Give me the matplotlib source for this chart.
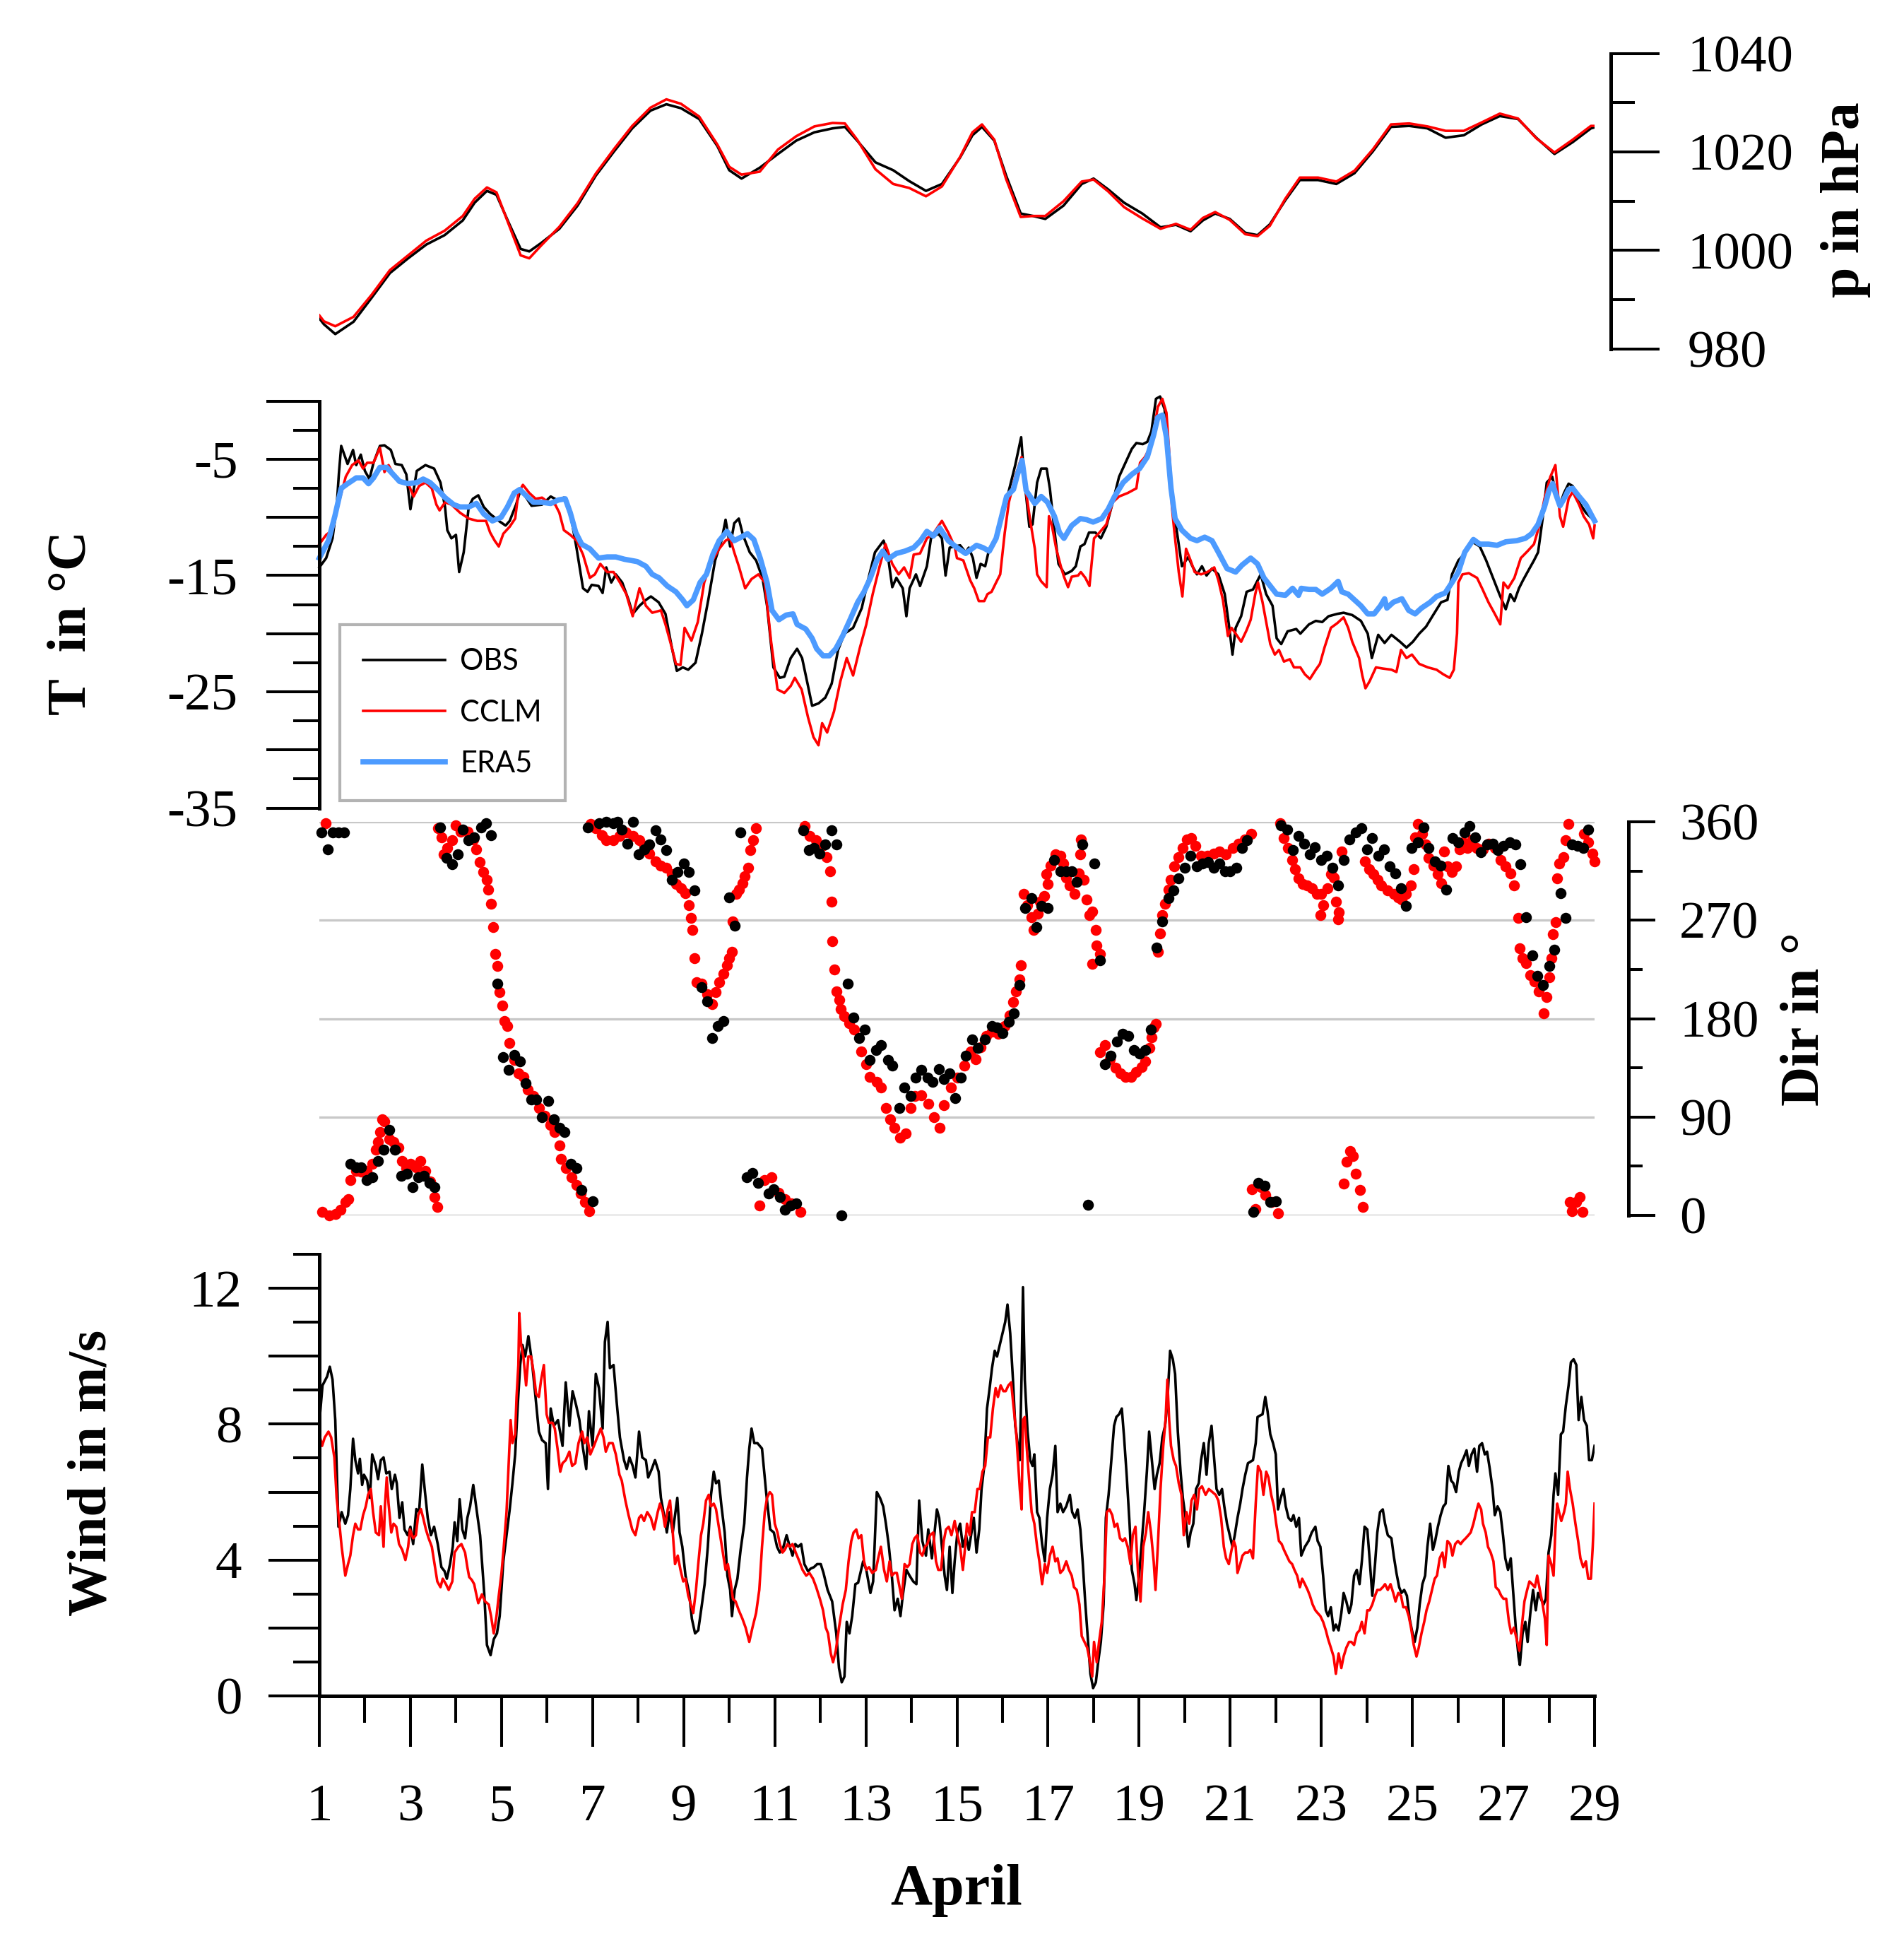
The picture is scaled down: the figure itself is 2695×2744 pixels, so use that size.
import matplotlib
matplotlib.use("Agg")
import matplotlib.pyplot as plt

plt.rcParams['font.family'] = ['Liberation Serif', 'DejaVu Serif']
plt.rcParams['axes.unicode_minus'] = False

# ---------------- data (April, day of month) ----------------
p_day = [1.0, 1.1, 1.35, 1.75, 2.15, 2.55, 2.95, 3.35, 3.75, 4.15,
         4.41, 4.68, 4.89, 5.15, 5.42, 5.61, 5.87, 6.27, 6.67, 7.07,
         7.47, 7.87, 8.27, 8.62, 8.94, 9.34, 9.74, 10.0, 10.27, 10.67,
         11.07, 11.47, 11.87, 12.27, 12.54, 12.81, 13.21, 13.6, 13.95, 14.32,
         14.67, 15.07, 15.34, 15.55, 15.82, 16.08, 16.4, 16.67, 16.94, 17.34,
         17.74, 18.0, 18.32, 18.67, 19.07, 19.47, 19.81, 20.13, 20.4, 20.67,
         20.99, 21.33, 21.6, 21.87, 22.21, 22.53, 22.93, 23.33, 23.73, 24.13,
         24.53, 24.93, 25.33, 25.73, 26.13, 26.52, 26.92, 27.32, 27.72, 28.12,
         28.52, 28.92, 29.0]
p_obs = [986.2, 985.0, 983.0, 985.5, 990.4, 995.4, 998.4, 1001.2, 1003.1, 1006.1,
         1009.7, 1012.1, 1011.3, 1005.8, 1000.3, 999.8, 1001.5, 1004.4, 1009.1, 1015.2,
         1020.1, 1024.8, 1028.4, 1029.7, 1028.9, 1026.7, 1021.2, 1016.3, 1014.6, 1016.8,
         1019.6, 1022.3, 1024.0, 1024.8, 1025.1, 1022.3, 1017.9, 1016.3, 1014.1, 1012.1,
         1013.5, 1018.9, 1023.4, 1025.1, 1022.3, 1015.2, 1007.5, 1007.0, 1006.4, 1009.1,
         1013.5, 1014.6, 1012.4, 1009.7, 1007.5, 1004.7, 1005.2, 1003.9, 1006.1, 1007.5,
         1006.4, 1003.6, 1003.1, 1005.3, 1010.2, 1014.3, 1014.3, 1013.5, 1015.7, 1020.1,
         1025.1, 1025.3, 1024.8, 1022.9, 1023.4, 1025.6, 1027.3, 1026.7, 1022.9, 1019.6,
         1022.0, 1024.8, 1025.0]
p_cclm = [986.8, 985.6, 984.6, 986.5, 991.0, 996.0, 999.0, 1002.0, 1004.0, 1007.0,
          1010.5, 1012.8, 1011.8, 1005.5, 999.0, 998.4, 1001.0, 1004.8, 1009.6, 1015.6,
          1020.6, 1025.3, 1029.0, 1030.7, 1029.8, 1027.2, 1021.5, 1017.0, 1015.4, 1016.0,
          1020.5, 1023.2, 1025.2, 1025.9, 1025.8, 1022.5, 1016.5, 1013.5, 1012.7, 1011.0,
          1013.0, 1019.0, 1024.0, 1025.6, 1022.5, 1014.5, 1006.8, 1007.0, 1007.0, 1010.0,
          1014.0, 1014.4, 1012.0, 1008.8, 1006.5, 1004.4, 1005.4, 1004.2, 1006.6, 1007.8,
          1006.2, 1003.3, 1002.9, 1005.0, 1010.5, 1014.8, 1014.8, 1014.0, 1016.2, 1020.5,
          1025.6, 1025.8, 1025.2, 1024.3, 1024.3, 1026.0, 1027.8, 1026.8, 1022.8, 1019.9,
          1022.5, 1025.3, 1025.3]

t_obs_day = [1.0, 1.15, 1.29, 1.38, 1.43, 1.48, 1.62, 1.74, 1.81, 1.91,
             2.0, 2.1, 2.19, 2.33, 2.43, 2.57, 2.67, 2.81, 2.91, 3.0,
             3.14, 3.33, 3.52, 3.66, 3.76, 3.81, 3.9, 4.0, 4.07, 4.17,
             4.28, 4.37, 4.49, 4.61, 4.75, 4.94, 5.09, 5.18, 5.32, 5.42,
             5.56, 5.66, 5.89, 6.08, 6.22, 6.37, 6.51, 6.65, 6.79, 6.89,
             6.98, 7.13, 7.22, 7.3, 7.41, 7.51, 7.65, 7.79, 7.88, 8.03,
             8.17, 8.28, 8.45, 8.6, 8.74, 8.85, 8.98, 9.1, 9.26, 9.4,
             9.54, 9.69, 9.83, 9.92, 10.02, 10.11, 10.21, 10.3, 10.45, 10.59,
             10.73, 10.83, 10.97, 11.11, 11.21, 11.35, 11.49, 11.6, 11.73, 11.82,
             11.96, 12.11, 12.25, 12.39, 12.53, 12.72, 12.91, 13.06, 13.2, 13.39,
             13.48, 13.58, 13.67, 13.81, 13.89, 13.96, 14.1, 14.19, 14.34, 14.43,
             14.59, 14.67, 14.75, 14.84, 14.95, 15.07, 15.19, 15.26, 15.35, 15.43,
             15.52, 15.62, 15.71, 15.86, 16.0, 16.14, 16.28, 16.41, 16.47, 16.59,
             16.66, 16.76, 16.85, 16.97, 17.04, 17.14, 17.23, 17.37, 17.52, 17.61,
             17.71, 17.8, 17.9, 18.04, 18.16, 18.28, 18.42, 18.56, 18.7, 18.84,
             18.94, 19.08, 19.18, 19.27, 19.37, 19.46, 19.56, 19.65, 19.75, 19.84,
             19.94, 20.08, 20.17, 20.27, 20.38, 20.48, 20.6, 20.74, 20.88, 20.98,
             21.05, 21.12, 21.24, 21.36, 21.5, 21.67, 21.79, 21.93, 22.02, 22.12,
             22.26, 22.45, 22.54, 22.73, 22.88, 23.02, 23.16, 23.35, 23.49, 23.68,
             23.87, 24.02, 24.11, 24.25, 24.39, 24.54, 24.73, 24.87, 25.01, 25.15,
             25.3, 25.44, 25.63, 25.77, 25.87, 26.01, 26.15, 26.32, 26.48, 26.62,
             26.77, 26.91, 27.05, 27.15, 27.24, 27.34, 27.43, 27.57, 27.67, 27.76,
             27.86, 27.95, 28.07, 28.14, 28.24, 28.33, 28.43, 28.52, 28.66, 28.81,
             29.0]
t_obs = [-14.3, -13.5, -11.8, -9.1, -6.2, -3.85, -5.4, -4.2, -5.5, -4.6,
         -6.0, -6.7, -5.3, -3.85, -3.8, -4.2, -5.4, -5.5, -6.3, -9.3,
         -6.0, -5.5, -5.8, -7.0, -9.1, -11.1, -11.8, -11.5, -14.7, -13.0,
         -9.1, -8.4, -8.1, -9.1, -9.7, -10.3, -10.7, -10.3, -8.9, -7.6,
         -8.4, -9.0, -8.9, -8.2, -8.5, -8.3, -9.6, -12.7, -16.1, -16.4,
         -15.8, -15.9, -16.5, -14.3, -15.6, -14.9, -15.6, -17.1, -18.3, -17.6,
         -17.1, -16.8, -17.3, -18.3, -21.2, -23.2, -22.9, -23.1, -22.5, -20.0,
         -17.1, -13.7, -12.0, -10.2, -12.5, -10.5, -10.1, -11.5, -13.0, -13.7,
         -15.2, -17.6, -22.9, -23.8, -23.7, -22.1, -21.3, -22.1, -24.5, -26.2,
         -26.0, -25.5, -24.3, -21.4, -20.0, -19.5, -17.8, -15.2, -13.0, -12.0,
         -13.2, -16.0, -15.2, -16.1, -18.5, -16.1, -14.9, -15.9, -14.2, -11.8,
         -11.4, -11.8, -15.0, -12.6, -12.5, -12.4, -13.0, -12.6, -13.5, -15.2,
         -14.0, -14.2, -12.7, -11.8, -9.9, -7.7, -5.5, -3.1, -6.3, -10.8,
         -10.6, -7.0, -5.8, -5.8, -7.5, -11.1, -14.0, -14.9, -14.6, -14.2,
         -12.5, -12.3, -11.3, -11.3, -11.8, -10.8, -8.7, -6.5, -5.3, -4.1,
         -3.6, -3.7, -3.5, -2.6, 0.2, 0.4, -0.7, -5.5, -9.1, -11.5,
         -14.2, -13.4, -14.2, -14.9, -14.2, -15.0, -14.4, -14.9, -16.6, -19.5,
         -21.8, -19.5, -18.5, -16.4, -16.2, -14.9, -16.6, -17.6, -20.4, -20.9,
         -19.8, -19.6, -20.0, -19.2, -18.9, -19.0, -18.5, -18.3, -18.2, -18.4,
         -18.9, -20.0, -22.1, -20.1, -20.8, -20.1, -20.7, -21.2, -20.7, -20.0,
         -19.4, -18.5, -17.3, -17.1, -14.9, -13.7, -13.1, -12.1, -12.5, -13.7,
         -15.2, -16.6, -17.9, -16.6, -17.2, -16.1, -15.4, -14.4, -13.7, -13.0,
         -10.1, -7.0, -6.5, -7.7, -8.9, -7.9, -7.1, -7.3, -8.7, -9.6,
         -10.3]

t_cclm_day = [1.0, 1.15, 1.29, 1.43, 1.58, 1.72, 1.86, 1.96, 2.05, 2.19,
              2.33, 2.43, 2.52, 2.67, 2.81, 2.95, 3.07, 3.19, 3.33, 3.47,
              3.57, 3.64, 3.76, 3.9, 4.09, 4.28, 4.47, 4.66, 4.75, 4.85,
              4.94, 5.04, 5.18, 5.3, 5.37, 5.47, 5.61, 5.75, 5.89, 6.03,
              6.18, 6.27, 6.37, 6.51, 6.65, 6.79, 6.94, 7.05, 7.17, 7.32,
              7.46, 7.6, 7.74, 7.88, 8.03, 8.17, 8.31, 8.5, 8.6, 8.74,
              8.83, 8.93, 9.02, 9.17, 9.31, 9.45, 9.59, 9.78, 9.92, 10.02,
              10.11, 10.21, 10.35, 10.49, 10.64, 10.78, 10.92, 11.06, 11.21, 11.35,
              11.44, 11.59, 11.73, 11.85, 11.96, 12.04, 12.15, 12.3, 12.44, 12.58,
              12.72, 12.87, 13.01, 13.15, 13.29, 13.43, 13.58, 13.72, 13.84, 13.96,
              14.05, 14.19, 14.34, 14.48, 14.67, 14.81, 14.95, 15.0, 15.14, 15.29,
              15.38, 15.48, 15.6, 15.67, 15.76, 15.86, 15.95, 16.05, 16.14, 16.28,
              16.42, 16.52, 16.61, 16.71, 16.76, 16.85, 16.97, 17.02, 17.09, 17.18,
              17.28, 17.35, 17.44, 17.52, 17.66, 17.72, 17.82, 17.91, 18.01, 18.13,
              18.28, 18.42, 18.56, 18.75, 18.94, 19.02, 19.13, 19.22, 19.34, 19.41,
              19.51, 19.6, 19.68, 19.72, 19.77, 19.87, 19.95, 20.03, 20.13, 20.22,
              20.36, 20.5, 20.65, 20.74, 20.84, 20.95, 21.03, 21.12, 21.24, 21.36,
              21.45, 21.55, 21.61, 21.71, 21.79, 21.88, 21.98, 22.07, 22.18, 22.31,
              22.4, 22.54, 22.64, 22.75, 22.88, 22.97, 23.07, 23.21, 23.35, 23.49,
              23.59, 23.68, 23.83, 23.9, 23.97, 24.06, 24.2, 24.35, 24.54, 24.65,
              24.75, 24.87, 24.99, 25.15, 25.34, 25.53, 25.68, 25.82, 25.91, 25.98,
              26.01, 26.1, 26.24, 26.42, 26.53, 26.67, 26.81, 26.93, 27.0, 27.1,
              27.24, 27.38, 27.53, 27.67, 27.78, 27.9, 28.03, 28.14, 28.24, 28.31,
              28.43, 28.52, 28.66, 28.76, 28.88, 28.97, 29.0]
t_cclm = [-12.3, -11.5, -11.1, -8.7, -6.5, -5.5, -5.1, -5.8, -5.3, -5.3,
          -4.0, -6.1, -5.5, -6.6, -6.9, -7.1, -8.2, -7.3, -7.0, -7.5,
          -8.9, -9.4, -8.7, -8.9, -9.6, -10.1, -10.3, -10.3, -11.3, -12.0,
          -12.5, -11.4, -10.8, -10.1, -7.9, -7.2, -7.9, -8.4, -8.3, -8.7,
          -8.9, -9.6, -11.1, -11.5, -12.0, -13.2, -15.2, -14.9, -14.0, -14.7,
          -14.7, -15.6, -16.6, -18.5, -16.1, -17.6, -18.2, -18.0, -19.2, -21.2,
          -22.6, -22.7, -19.5, -20.6, -19.0, -15.6, -14.0, -12.7, -12.0, -11.8,
          -13.0, -14.2, -16.1, -15.3, -14.9, -15.6, -20.7, -24.8, -25.1, -24.5,
          -23.8, -24.8, -27.2, -28.9, -29.6, -27.7, -28.5, -26.7, -24.1, -22.1,
          -23.6, -21.2, -19.2, -16.6, -14.4, -12.3, -14.0, -14.9, -14.3, -15.2,
          -13.2, -13.1, -11.8, -11.4, -10.3, -11.3, -12.5, -13.5, -13.7, -15.4,
          -16.1, -17.2, -17.2, -16.6, -16.4, -15.6, -14.9, -11.3, -8.7, -6.5,
          -4.8, -7.9, -10.3, -12.7, -14.9, -15.5, -16.0, -9.9, -10.8, -12.7,
          -14.2, -15.1, -16.0, -15.1, -15.0, -14.7, -15.2, -15.9, -11.8, -11.3,
          -10.6, -8.7, -8.2, -7.9, -7.5, -5.3, -4.8, -4.1, -2.2, -0.5,
          0.2, -1.0, -5.5, -9.1, -11.1, -14.7, -16.8, -12.7, -13.7, -14.7,
          -14.9, -14.7, -14.3, -15.4, -17.1, -20.2, -19.5, -20.0, -20.7, -19.7,
          -18.8, -16.6, -15.6, -17.3, -19.0, -20.9, -21.8, -21.4, -22.4, -22.2,
          -22.9, -22.9, -23.5, -23.9, -23.1, -22.6, -21.2, -19.5, -19.1, -18.6,
          -19.5, -20.7, -22.1, -23.6, -24.7, -24.1, -22.9, -23.0, -23.1, -23.3,
          -21.4, -22.1, -21.8, -22.6, -22.9, -23.1, -23.5, -23.8, -23.1, -20.0,
          -15.6, -14.9, -14.8, -15.2, -16.1, -17.3, -18.3, -19.2, -15.6, -16.1,
          -15.2, -13.5, -12.9, -12.3, -10.8, -8.4, -6.5, -5.5, -9.9, -10.8,
          -8.4, -7.8, -8.9, -9.9, -10.6, -11.8, -10.7]

t_era5_day = [1.0, 1.2, 1.34, 1.48, 1.62, 1.81, 1.96, 2.08, 2.19, 2.33,
              2.48, 2.62, 2.76, 2.95, 3.14, 3.28, 3.43, 3.62, 3.76, 3.95,
              4.09, 4.28, 4.45, 4.61, 4.8, 4.99, 5.13, 5.28, 5.4, 5.56,
              5.7, 5.89, 6.08, 6.25, 6.4, 6.51, 6.63, 6.76, 6.94, 7.13,
              7.32, 7.51, 7.7, 7.98, 8.17, 8.31, 8.46, 8.64, 8.83, 8.98,
              9.07, 9.21, 9.36, 9.5, 9.64, 9.78, 9.95, 10.11, 10.26, 10.4,
              10.54, 10.68, 10.83, 10.94, 11.09, 11.25, 11.4, 11.49, 11.68, 11.82,
              11.92, 12.06, 12.2, 12.34, 12.49, 12.63, 12.82, 12.96, 13.1, 13.24,
              13.37, 13.48, 13.67, 13.86, 14.05, 14.2, 14.34, 14.48, 14.62, 14.81,
              15.0, 15.19, 15.43, 15.57, 15.71, 15.86, 16.0, 16.09, 16.24, 16.33,
              16.43, 16.52, 16.71, 16.85, 16.99, 17.14, 17.25, 17.35, 17.52, 17.71,
              17.85, 17.99, 18.18, 18.32, 18.46, 18.65, 18.84, 19.01, 19.18, 19.32,
              19.41, 19.51, 19.6, 19.7, 19.79, 19.94, 20.13, 20.27, 20.44, 20.6,
              20.74, 20.93, 21.12, 21.26, 21.45, 21.6, 21.74, 21.88, 22.02, 22.21,
              22.37, 22.5, 22.56, 22.73, 22.88, 23.02, 23.21, 23.37, 23.45, 23.59,
              23.73, 23.87, 24.02, 24.16, 24.3, 24.39, 24.44, 24.58, 24.77, 24.92,
              25.06, 25.2, 25.39, 25.53, 25.72, 25.87, 26.01, 26.15, 26.34, 26.48,
              26.67, 26.86, 27.05, 27.29, 27.48, 27.62, 27.76, 27.9, 28.0, 28.08,
              28.14, 28.24, 28.33, 28.43, 28.52, 28.66, 28.81, 29.0]
t_era5 = [-13.5, -12.0, -9.9, -7.5, -7.1, -6.6, -6.6, -7.1, -6.6, -5.7,
          -5.7, -6.3, -6.9, -7.1, -7.0, -6.7, -7.0, -7.7, -8.3, -8.9,
          -9.1, -9.1, -8.8, -9.7, -10.3, -10.0, -9.1, -7.9, -7.6, -8.2,
          -8.7, -8.7, -8.8, -8.5, -8.4, -9.6, -11.3, -12.3, -12.7, -13.5,
          -13.4, -13.4, -13.6, -13.8, -14.2, -14.9, -15.2, -15.9, -16.4, -17.1,
          -17.6, -17.1, -15.6, -14.9, -13.2, -12.0, -11.2, -12.0, -11.7, -11.4,
          -11.9, -13.5, -15.6, -18.0, -18.8, -18.4, -18.3, -19.2, -19.6, -20.4,
          -21.3, -21.9, -21.9, -21.3, -20.2, -19.0, -17.3, -16.4, -15.2, -13.7,
          -12.9, -13.6, -13.1, -12.9, -12.6, -12.0, -11.2, -11.6, -10.9, -12.0,
          -12.6, -13.1, -12.4, -12.6, -12.9, -11.8, -9.6, -8.2, -7.6, -6.3,
          -5.1, -7.7, -8.8, -8.2, -8.7, -9.9, -11.3, -11.8, -10.7, -10.1,
          -10.2, -10.4, -10.1, -9.3, -8.2, -7.0, -6.3, -5.8, -4.8, -2.9,
          -1.4, -1.2, -3.1, -7.5, -10.1, -11.1, -11.8, -12.0, -11.7, -12.0,
          -13.0, -14.4, -14.7, -14.1, -13.5, -14.0, -15.2, -15.9, -16.6, -16.7,
          -16.1, -16.7, -16.1, -16.2, -16.2, -16.6, -16.1, -15.5, -16.4, -16.6,
          -17.1, -17.6, -18.3, -18.3, -17.6, -17.0, -17.8, -17.3, -17.0, -18.0,
          -18.3, -17.8, -17.3, -16.8, -16.5, -15.6, -14.7, -13.0, -11.9, -12.3,
          -12.3, -12.4, -12.1, -12.0, -11.8, -11.4, -10.6, -9.1, -7.7, -7.1,
          -7.9, -9.0, -8.4, -7.6, -7.5, -8.2, -8.9, -10.3]

dir_obs_day = [1.04, 1.18, 1.30, 1.42, 1.55, 1.68, 1.80, 1.92, 2.04, 2.17,
               2.29, 2.41, 2.53, 2.66, 2.80, 2.93, 3.04, 3.17, 3.29, 3.42,
               3.53, 3.66, 3.79, 3.91, 4.04, 4.15, 4.28, 4.40, 4.55, 4.66,
               4.77, 4.91, 5.04, 5.16, 5.28, 5.40, 5.53, 5.66, 5.77, 5.89,
               6.02, 6.15, 6.27, 6.38, 6.52, 6.64, 6.76, 7.00, 6.90, 7.15,
               7.30, 7.45, 7.55, 7.64, 7.76, 7.89, 8.01, 8.13, 8.25, 8.38,
               8.50, 8.62, 8.74, 8.87, 9.00, 9.11, 9.24, 9.39, 9.51, 9.62,
               9.75, 9.87, 10.00, 10.12, 10.24, 10.39, 10.51, 10.64, 10.86, 10.98,
               11.11, 11.23, 11.35, 11.47, 11.62, 11.75, 11.86, 11.98, 12.11, 12.24,
               12.36, 12.47, 12.60, 12.73, 12.85, 12.97, 13.09, 13.22, 13.34, 13.49,
               13.58, 13.73, 13.85, 13.98, 14.10, 14.22, 14.35, 14.47, 14.60, 14.71,
               14.83, 14.96, 15.09, 15.20, 15.33, 15.45, 15.61, 15.77, 15.88, 16.00,
               16.14, 16.25, 16.38, 16.50, 16.64, 16.75, 16.86, 17.00, 17.14, 17.27,
               17.39, 17.52, 17.63, 17.76, 17.88, 18.01, 18.14, 18.25, 18.38, 18.51,
               18.64, 18.76, 18.88, 19.01, 19.13, 19.26, 19.38, 19.50, 19.64, 19.76,
               19.87, 20.00, 20.12, 20.27, 20.39, 20.52, 20.64, 20.77, 20.89, 21.00,
               21.14, 21.26, 21.37, 21.50, 21.62, 21.76, 21.88, 22.00, 22.11, 22.25,
               22.37, 22.50, 22.62, 22.75, 22.86, 23.00, 23.12, 23.25, 23.37, 23.49,
               23.62, 23.76, 23.88, 24.00, 24.12, 24.26, 24.37, 24.50, 24.62, 24.75,
               24.86, 24.99, 25.12, 25.25, 25.36, 25.50, 25.62, 25.75, 25.88, 26.00,
               26.14, 26.25, 26.38, 26.50, 26.64, 26.76, 26.88, 27.00, 27.14, 27.26,
               27.37, 27.50, 27.64, 27.75, 27.86, 28.00, 28.12, 28.25, 28.37, 28.50,
               28.62, 28.75, 28.86]
dir_obs = [350, 335, 350, 350, 350, 47, 44, 44, 32, 35,
           50, 60, 78, 60, 36, 38, 26, 35, 36, 30,
           26, 355, 327, 321, 330, 353, 343, 346, 355, 359,
           348, 212, 145, 133, 147, 141, 121, 106, 106, 90,
           105, 88, 80, 76, 47, 43, 23, 13, 355, 359,
           360, 359, 360, 353, 340, 360, 330, 335, 339, 352,
           344, 334, 307, 314, 322, 314, 297, 209, 196, 162,
           173, 178, 291, 265, 350, 35, 39, 30, 20, 24,
           17, 5, 9, 11, 352, 334, 336, 331, 339, 352,
           339, 0, 212, 181, 162, 170, 142, 151, 156, 142,
           137, 98, 117, 109, 126, 133, 126, 122, 134, 125,
           130, 107, 126, 146, 161, 153, 161, 173, 172, 167,
           177, 185, 211, 281, 290, 264, 283, 281, 325, 315,
           315, 315, 305, 339, 10, 322, 233, 138, 146, 159,
           166, 164, 151, 148, 151, 170, 245, 269, 290, 297,
           308, 318, 329, 319, 322, 323, 318, 322, 315, 315,
           318, 336, 343, 3, 30, 27, 12, 13, 357, 353,
           334, 347, 340, 330, 337, 325, 329, 318, 302, 325,
           344, 350, 354, 335, 345, 329, 335, 319, 313, 299,
           283, 336, 341, 355, 336, 324, 320, 298, 345, 341,
           350, 356, 346, 332, 339, 340, 334, 338, 341, 339,
           321, 273, 238, 219, 211, 228, 243, 295, 272, 339,
           338, 336, 353]

dir_cclm_day = [1.06, 1.14, 1.21, 1.35, 1.47, 1.57, 1.63, 1.68, 1.80, 1.92,
                2.04, 2.16, 2.24, 2.29, 2.34, 2.38, 2.43, 2.53, 2.63, 2.73,
                2.81, 2.91, 3.00, 3.12, 3.22, 3.32, 3.44, 3.53, 3.59, 3.61,
                3.69, 3.73, 3.81, 3.91, 3.99, 4.10, 4.25, 4.38, 4.45, 4.52,
                4.60, 4.68, 4.71, 4.77, 4.82, 4.86, 4.91, 4.96, 5.01, 5.07,
                5.12, 5.18, 5.28, 5.38, 5.48, 5.58, 5.70, 5.82, 5.95, 6.07,
                6.17, 6.27, 6.31, 6.41, 6.54, 6.64, 6.74, 6.83, 6.93, 6.95,
                7.07, 7.20, 7.30, 7.45, 7.59, 7.74, 7.89, 8.03, 8.13, 8.25,
                8.38, 8.50, 8.62, 8.74, 8.84, 8.94, 9.04, 9.11, 9.16, 9.19,
                9.23, 9.29, 9.39, 9.51, 9.62, 9.70, 9.78, 9.88, 9.95, 10.00,
                10.06, 10.07, 10.15, 10.21, 10.29, 10.34, 10.41, 10.47, 10.53, 10.59,
                10.67, 10.78, 10.93, 11.08, 11.23, 11.37, 11.57, 11.65, 11.77, 11.91,
                12.04, 12.14, 12.21, 12.24, 12.26, 12.31, 12.36, 12.41, 12.45, 12.53,
                12.63, 12.75, 12.90, 13.00, 13.09, 13.24, 13.34, 13.44, 13.53, 13.63,
                13.75, 13.88, 13.98, 14.07, 14.22, 14.37, 14.50, 14.62, 14.72, 14.87,
                15.01, 15.16, 15.30, 15.41, 15.52, 15.64, 15.77, 15.91, 16.05, 16.16,
                16.23, 16.29, 16.37, 16.41, 16.46, 16.55, 16.64, 16.68, 16.77, 16.82,
                16.91, 16.96, 17.00, 17.06, 17.16, 17.27, 17.34, 17.39, 17.48, 17.59,
                17.68, 17.70, 17.73, 17.79, 17.85, 17.91, 17.97, 17.97, 18.05, 18.07,
                18.14, 18.14, 18.25, 18.36, 18.48, 18.59, 18.70, 18.82, 18.94, 19.05,
                19.14, 19.23, 19.28, 19.32, 19.37, 19.41, 19.46, 19.50, 19.57, 19.64,
                19.70, 19.77, 19.86, 19.96, 20.05, 20.14, 20.23, 20.36, 20.50, 20.64,
                20.77, 20.91, 21.05, 21.18, 21.32, 21.46, 21.48, 21.56, 21.68, 21.77,
                21.91, 22.05, 22.09, 22.18, 22.27, 22.36, 22.43, 22.50, 22.59, 22.68,
                22.79, 22.91, 23.00, 23.05, 22.98, 23.14, 23.21, 23.27, 23.32, 23.39,
                23.37, 23.45, 23.50, 23.55, 23.64, 23.70, 23.76, 23.85, 23.91, 23.96,
                24.05, 24.14, 24.23, 24.32, 24.46, 24.59, 24.68, 24.77, 24.86, 24.96,
                25.03, 25.06, 25.12, 25.21, 25.30, 25.36, 25.46, 25.55, 25.64, 25.70,
                25.77, 25.86, 25.96, 26.03, 26.12, 26.21, 26.32, 26.41, 26.55, 26.68,
                26.82, 26.94, 27.05, 27.16, 27.23, 27.32, 27.36, 27.41, 27.50, 27.59,
                27.68, 27.77, 27.88, 27.94, 28.00, 28.05, 28.09, 28.14, 28.18, 28.23,
                28.32, 28.36, 28.43, 28.45, 28.50, 28.59, 28.68, 28.74, 28.77, 28.86,
                28.95, 29.00]
dir_cclm = [3, 359, 0, 1, 5, 12, 15, 32, 41, 40,
            41, 47, 60, 67, 76, 88, 86, 70, 67, 62,
            50, 43, 47, 44, 50, 41, 31, 17, 8, 354,
            346, 330, 336, 343, 357, 351, 351, 344, 335, 323,
            314, 307, 298, 285, 264, 239, 228, 204, 192, 178,
            173, 158, 142, 130, 127, 115, 109, 98, 91, 83,
            76, 64, 52, 43, 35, 28, 20, 12, 4, 358,
            354, 348, 343, 343, 347, 350, 347, 343, 338, 331,
            324, 320, 318, 312, 303, 299, 295, 284, 272, 261,
            235, 213, 212, 202, 193, 204, 213, 221, 229, 235,
            241, 269, 294, 298, 304, 310, 318, 334, 343, 354,
            9, 32, 35, 21, 15, 11, 3, 356, 347, 343,
            338, 328, 315, 287, 251, 225, 205, 197, 189, 182,
            176, 170, 150, 138, 127, 122, 117, 98, 88, 80,
            71, 75, 98, 109, 110, 102, 90, 80, 101, 117,
            126, 137, 150, 143, 154, 164, 168, 166, 173, 183,
            195, 205, 216, 229, 294, 284, 273, 261, 276, 287,
            292, 312, 303, 320, 330, 329, 322, 309, 302, 294,
            313, 330, 344, 307, 289, 275, 278, 230, 261, 247,
            239, 149, 156, 143, 135, 130, 127, 127, 131, 136,
            141, 153, 163, 172, 175, 241, 258, 275, 285, 298,
            307, 319, 328, 336, 344, 345, 338, 329, 329, 331,
            333, 330, 336, 340, 344, 349, 24, 6, 26, 19,
            12, 2, 359, 345, 336, 325, 317, 308, 303, 302,
            299, 294, 294, 284, 275, 299, 312, 309, 287, 277,
            271, 333, 29, 49, 59, 54, 38, 23, 8, 324,
            317, 312, 307, 302, 297, 294, 291, 289, 294, 302,
            317, 346, 358, 349, 339, 327, 320, 312, 304, 333,
            319, 314, 319, 335, 341, 336, 344, 336, 335, 340,
            336, 325, 319, 313, 302, 272, 244, 235, 231, 220,
            214, 205, 185, 200, 218, 235, 257, 268, 308, 322,
            328, 343, 358, 12, 4, 12, 17, 3, 349, 341,
            331, 324]

w_obs_day = [1.0, 1.07, 1.17, 1.23, 1.29, 1.35, 1.42, 1.49, 1.57, 1.63,
             1.68, 1.74, 1.79, 1.85, 1.89, 1.94, 1.98, 2.05, 2.11, 2.16,
             2.24, 2.29, 2.35, 2.41, 2.47, 2.54, 2.59, 2.66, 2.7, 2.76,
             2.82, 2.87, 2.94, 3.0, 3.06, 3.13, 3.19, 3.26, 3.32, 3.38,
             3.45, 3.52, 3.6, 3.68, 3.75, 3.8, 3.87, 3.93, 3.97, 4.03,
             4.08, 4.14, 4.2, 4.25, 4.31, 4.38, 4.46, 4.53, 4.62, 4.68,
             4.76, 4.83, 4.9, 4.96, 5.04, 5.11, 5.18, 5.24, 5.3, 5.36,
             5.41, 5.46, 5.52, 5.59, 5.67, 5.74, 5.82, 5.89, 5.97, 6.02,
             6.08, 6.15, 6.24, 6.34, 6.41, 6.49, 6.56, 6.64, 6.71, 6.79,
             6.86, 6.92, 7.0, 7.07, 7.14, 7.22, 7.27, 7.33, 7.38, 7.46,
             7.53, 7.6, 7.69, 7.75, 7.81, 7.88, 7.94, 8.02, 8.09, 8.17,
             8.22, 8.3, 8.37, 8.45, 8.5, 8.58, 8.63, 8.69, 8.76, 8.86,
             8.91, 8.97, 9.04, 9.12, 9.18, 9.25, 9.32, 9.4, 9.46, 9.53,
             9.6, 9.66, 9.71, 9.77, 9.83, 9.9, 9.96, 10.02, 10.06, 10.12,
             10.18, 10.25, 10.33, 10.39, 10.44, 10.49, 10.55, 10.62, 10.72, 10.81,
             10.9, 10.98, 11.05, 11.11, 11.19, 11.26, 11.33, 11.39, 11.45, 11.51,
             11.58, 11.65, 11.73, 11.79, 11.86, 11.93, 12.01, 12.07, 12.16, 12.26,
             12.35, 12.41, 12.47, 12.53, 12.58, 12.64, 12.7, 12.77, 12.83, 12.88,
             12.94, 13.01, 13.1, 13.16, 13.24, 13.31, 13.38, 13.44, 13.5, 13.57,
             13.63, 13.7, 13.76, 13.81, 13.89, 13.96, 14.04, 14.11, 14.17, 14.24,
             14.32, 14.37, 14.45,
             14.56, 14.61, 14.67, 14.73, 14.78, 14.84, 14.9, 14.95, 15.01, 15.07,
             15.13, 15.2, 15.26, 15.31, 15.37, 15.43, 15.49, 15.54, 15.6, 15.66,
             15.71, 15.77, 15.83, 15.88, 15.94, 16.0, 16.06, 16.11, 16.17, 16.23,
             16.28, 16.34, 16.38, 16.42, 16.45, 16.49, 16.55, 16.61, 16.66, 16.7,
             16.76, 16.81, 16.87, 16.93, 16.98, 17.04, 17.1, 17.16, 17.21, 17.27,
             17.33, 17.4, 17.48, 17.53, 17.59, 17.65, 17.71, 17.76, 17.82, 17.88,
             17.93, 17.99, 18.05, 18.1, 18.16, 18.22, 18.27, 18.33, 18.39, 18.45,
             18.5, 18.56, 18.62, 18.67, 18.73, 18.79, 18.84, 18.9, 18.94, 19.0,
             19.05, 19.11, 19.17, 19.22, 19.28, 19.34, 19.39, 19.45, 19.51, 19.57,
             19.62, 19.68, 19.74, 19.79, 19.85, 19.91, 19.96, 20.02, 20.08, 20.13,
             20.19, 20.25, 20.31, 20.36, 20.42, 20.48, 20.53, 20.59, 20.65, 20.7,
             20.76, 20.82, 20.87, 20.93, 20.99, 21.05, 21.1, 21.16, 21.22, 21.27,
             21.33, 21.39, 21.44, 21.5, 21.56, 21.6, 21.65, 21.71, 21.77, 21.82,
             21.88, 21.94, 22.0, 22.05, 22.11, 22.17, 22.22, 22.28, 22.34, 22.39,
             22.45, 22.51, 22.56, 22.64, 22.72, 22.79, 22.87, 22.92, 22.98, 23.04,
             23.1, 23.15, 23.21, 23.27, 23.32, 23.38, 23.44, 23.49, 23.55, 23.61,
             23.66, 23.72, 23.78, 23.84, 23.89, 23.95, 24.01, 24.06, 24.12, 24.18,
             24.23, 24.29, 24.35, 24.4, 24.46, 24.54, 24.59, 24.65, 24.71, 24.76,
             24.82, 24.88, 24.94, 24.99, 25.05, 25.11, 25.16, 25.22, 25.28, 25.33,
             25.39, 25.45, 25.5, 25.56, 25.62, 25.68, 25.73, 25.79, 25.85, 25.9,
             25.96, 26.02, 26.07, 26.13, 26.19, 26.24, 26.3, 26.36, 26.42, 26.47,
             26.53, 26.59, 26.64, 26.7, 26.76, 26.81, 26.87, 26.93, 26.99, 27.04,
             27.1, 27.16, 27.21, 27.27, 27.33, 27.36, 27.42, 27.48, 27.53, 27.59,
             27.65, 27.71, 27.76, 27.82, 27.88, 27.93, 27.99, 28.05, 28.1, 28.14,
             28.2, 28.26, 28.31, 28.37, 28.43, 28.48, 28.54, 28.6, 28.65, 28.71,
             28.77, 28.83, 28.88, 28.94, 29.0]
w_obs = [8.04, 9.14, 9.4, 9.69, 9.31, 8.12, 4.98, 5.41, 5.07, 5.32,
         6.09, 7.57, 6.94, 6.55, 6.98, 6.21, 6.51, 6.34, 5.83, 7.11,
         6.77, 6.38, 6.94, 7.02, 6.55, 6.6, 6.09, 6.51, 6.26, 5.24,
         5.7, 4.9, 4.73, 4.98, 4.47, 5.5, 5.41, 6.81, 6.0, 5.24,
         4.73, 4.98, 4.47, 3.79, 3.67, 3.45, 3.88, 4.39, 5.11, 4.56,
         5.79, 4.9, 4.64, 5.24, 5.58, 6.21, 5.41, 4.73, 3.03, 1.5,
         1.2, 1.67, 1.84, 2.35, 3.96, 4.73, 5.49, 6.26, 7.11, 8.63,
         9.74, 10.33, 9.99, 10.59, 9.82, 8.89, 7.78, 7.53, 7.44, 6.09,
         8.46, 7.95, 8.12, 7.36, 9.23, 7.95, 8.97, 8.55, 8.12, 7.28,
         6.68, 8.38, 7.36, 9.48, 9.06, 7.87, 10.42, 11.01, 9.65, 9.74,
         8.63, 7.61, 6.94, 6.68, 7.02, 6.77, 6.43, 7.78, 7.02, 6.94,
         6.43, 6.68, 6.94, 6.6, 5.83, 5.24, 4.81, 5.41, 4.81, 5.83,
         4.81, 4.39, 3.54, 3.03, 2.27, 1.84, 1.93, 2.69, 3.29, 4.39,
         5.92, 6.6, 6.26, 6.34, 5.58, 4.81, 3.54, 3.12, 2.35, 3.12,
         3.45, 4.3, 5.07, 6.43, 7.28, 7.87, 7.44, 7.44, 7.28, 6.0,
         4.9, 4.81, 4.39, 4.22, 4.39, 4.73, 4.39, 4.13, 4.47, 4.39,
         4.47, 3.88, 3.67, 3.75, 3.79, 3.88, 3.88, 3.62, 3.12, 2.78,
         1.84, 0.82, 0.4, 0.57, 2.18, 1.84, 2.35, 3.29, 3.33, 3.62,
         3.96, 3.71, 3.03, 3.37, 6.0, 5.83, 5.58, 5.07, 4.47, 3.54,
         2.52, 2.86, 2.35, 2.95, 3.71, 3.54, 3.37, 3.29, 5.75, 4.56,
         4.13, 4.9, 4.05,
         5.49, 5.24, 4.39, 3.54, 3.12, 4.39, 3.03, 3.96, 4.81, 5.07,
         4.39, 4.73, 4.30, 4.73, 5.24, 4.22, 4.9, 6.09, 6.77, 8.46,
         8.97, 9.65, 10.16, 9.99, 10.33, 10.67, 11.01, 11.52, 10.67, 9.31,
         7.95, 7.36, 6.94, 9.48, 12.03, 9.31, 7.78, 6.94, 6.77, 7.11,
         5.41, 5.24, 4.47, 3.96, 5.24, 6.09, 6.51, 7.36, 5.41, 5.66,
         5.41, 5.58, 5.92, 5.41, 5.24, 5.49, 4.90, 3.96, 2.69, 1.59,
         0.65, 0.23, 0.4, 0.99, 1.59, 2.69, 5.24, 5.92, 6.94, 7.95,
         8.21, 8.29, 8.46, 7.61, 6.43, 5.07, 3.71, 3.29, 2.82, 3.54,
         4.39, 5.41, 6.60, 7.78, 6.94, 6.09, 6.51, 6.85, 7.61, 7.95,
         8.63, 10.16, 9.91, 9.48, 7.78, 6.60, 5.83, 5.24, 4.39, 4.81,
         5.07, 6.09, 6.26, 6.94, 7.44, 6.51, 7.44, 7.95, 6.94, 6.09,
         5.92, 6.09, 5.58, 5.07, 4.73, 4.39, 4.73, 5.24, 5.66, 6.09,
         6.51, 6.85, 6.89, 6.94, 7.44, 8.21, 8.25, 8.29, 8.80, 8.38,
         7.70, 7.44, 7.11, 5.49, 5.83, 6.09, 5.58, 5.24, 5.15, 5.32,
         4.98, 5.24, 4.13, 4.39, 4.56, 4.81, 4.98, 4.56, 4.39, 3.54,
         2.52, 2.35, 2.61, 1.93, 2.10, 1.93, 2.44, 3.03, 2.78, 2.44,
         2.69, 3.54, 3.71, 3.29, 3.96, 4.98, 4.90, 4.05, 2.95, 3.88,
         4.81, 5.41, 5.49, 5.07, 4.73, 4.64, 4.13, 3.62, 3.20, 3.03,
         3.12, 2.95, 2.27, 1.93, 1.59, 2.01, 2.69, 3.29, 3.54, 4.39,
         5.07, 4.30, 4.56, 4.98, 5.32, 5.58, 5.66, 6.77, 6.34, 6.26,
         6.0, 6.60, 6.85, 7.02, 7.23, 6.77, 7.11, 7.28, 6.60, 7.36,
         7.44, 7.11, 7.19, 6.68, 6.09, 5.32, 5.58, 5.41, 4.73, 4.05,
         3.71, 4.05, 3.12, 2.01, 1.16, 0.91, 1.84, 2.18, 1.59, 2.44,
         3.12, 2.52, 3.03, 2.86, 2.69, 2.86, 4.22, 4.73, 5.92, 6.55,
         5.92, 7.70, 7.78, 8.55, 9.14, 9.82, 9.91, 9.74, 8.12, 8.80,
         8.12, 7.95, 6.94, 6.94, 7.36]

w_cclm_day = [1.0, 1.06, 1.12, 1.2, 1.26, 1.33, 1.38, 1.44, 1.49, 1.57,
              1.63, 1.68, 1.74, 1.79, 1.85, 1.9, 1.96, 2.02, 2.07, 2.13,
              2.18, 2.24, 2.31, 2.35, 2.41, 2.44, 2.48, 2.52, 2.58, 2.63,
              2.69, 2.75, 2.82, 2.89, 2.95, 2.99, 3.06, 3.12, 3.17, 3.23,
              3.28, 3.34, 3.4, 3.47, 3.52, 3.59, 3.66, 3.71, 3.78, 3.84,
              3.92, 3.97, 4.05, 4.12, 4.2, 4.25, 4.29, 4.35, 4.4, 4.44,
              4.49, 4.57, 4.64, 4.72, 4.77, 4.83, 4.89, 4.94, 5.0, 5.05,
              5.11, 5.16, 5.2, 5.24, 5.3, 5.33, 5.37, 5.39, 5.43, 5.48,
              5.54, 5.59, 5.65, 5.71, 5.76, 5.82, 5.87, 5.93, 5.99, 6.04,
              6.12, 6.17, 6.23, 6.29, 6.34, 6.41, 6.49, 6.55, 6.62, 6.69,
              6.77, 6.82, 6.88, 6.95, 7.03, 7.1, 7.18, 7.24, 7.29, 7.36,
              7.44, 7.51, 7.59, 7.64, 7.72, 7.79, 7.87, 7.94, 8.02, 8.07,
              8.13, 8.2, 8.28, 8.35, 8.43, 8.48, 8.54, 8.59, 8.65, 8.7,
              8.76, 8.81, 8.87, 8.93, 8.99, 9.04, 9.1, 9.16, 9.21, 9.27,
              9.32, 9.38, 9.43, 9.49, 9.55, 9.6, 9.66, 9.71, 9.79, 9.86,
              9.92, 9.97, 10.03, 10.08, 10.14, 10.21, 10.29, 10.36, 10.44, 10.51,
              10.59, 10.66, 10.72, 10.78, 10.83, 10.89, 10.94, 11.0, 11.06, 11.11,
              11.17, 11.22, 11.28, 11.33, 11.39, 11.46, 11.54, 11.61, 11.69, 11.76,
              11.84, 11.91, 11.99, 12.06, 12.12, 12.17, 12.23, 12.28, 12.34, 12.41,
              12.49, 12.56, 12.62, 12.68, 12.73, 12.79, 12.84, 12.9, 12.96, 13.01,
              13.07, 13.14, 13.22, 13.27, 13.33, 13.4, 13.46, 13.52, 13.57, 13.63,
              13.68, 13.74, 13.79, 13.85, 13.91, 13.96, 14.02, 14.07, 14.13, 14.19,
              14.24, 14.3, 14.35, 14.41,
              14.48, 14.54, 14.59, 14.65, 14.71, 14.76, 14.82, 14.88, 14.95, 15.01,
              15.07, 15.13, 15.18, 15.22, 15.28, 15.33, 15.39, 15.45, 15.5, 15.56,
              15.62, 15.68, 15.73, 15.79, 15.85, 15.9, 15.96, 16.02, 16.07, 16.13,
              16.19, 16.24, 16.3, 16.34, 16.38, 16.42, 16.45, 16.49, 16.53, 16.59,
              16.64, 16.7, 16.76, 16.81, 16.87, 16.93, 16.98, 17.04, 17.1, 17.16,
              17.21, 17.27, 17.33, 17.4, 17.46, 17.52, 17.57, 17.63, 17.69, 17.74,
              17.8, 17.86, 17.91, 17.97, 18.01, 18.07, 18.12, 18.18, 18.24, 18.29,
              18.35, 18.41, 18.46, 18.52, 18.58, 18.64, 18.69, 18.75, 18.81, 18.86,
              18.92, 18.98, 19.03, 19.09, 19.15, 19.2, 19.26, 19.32, 19.36, 19.41,
              19.47, 19.53, 19.58, 19.62, 19.66, 19.7, 19.76, 19.81, 19.87, 19.93,
              19.98, 20.04, 20.1, 20.15, 20.21, 20.27, 20.32, 20.38, 20.46, 20.53,
              20.61, 20.68, 20.74, 20.8, 20.86, 20.91, 20.97, 21.03, 21.08, 21.12,
              21.16, 21.22, 21.27, 21.33, 21.39, 21.44, 21.5, 21.56, 21.61, 21.67,
              21.73, 21.79, 21.84, 21.9, 21.96, 22.01, 22.07, 22.13, 22.18, 22.24,
              22.3, 22.36, 22.41, 22.47, 22.53, 22.58, 22.64, 22.7, 22.75, 22.81,
              22.87, 22.92, 22.98, 23.04, 23.1, 23.15, 23.21, 23.27, 23.32, 23.38,
              23.44, 23.49, 23.55, 23.61, 23.66, 23.72, 23.78, 23.84, 23.89, 23.95,
              24.01, 24.06, 24.12, 24.18, 24.23, 24.29, 24.35, 24.4, 24.46, 24.52,
              24.58, 24.63, 24.69, 24.75, 24.8, 24.86, 24.92, 24.97, 25.03, 25.09,
              25.14, 25.2, 25.26, 25.31, 25.37, 25.43, 25.49, 25.54, 25.6, 25.66,
              25.71, 25.77, 25.83, 25.88, 25.94, 26.0, 26.06, 26.11, 26.17, 26.23,
              26.28, 26.34, 26.4, 26.45, 26.51, 26.55, 26.61, 26.66, 26.72, 26.78,
              26.83, 26.89, 26.95, 27.0, 27.06, 27.12, 27.17, 27.23, 27.29, 27.35,
              27.4, 27.46, 27.52, 27.57, 27.63, 27.69, 27.74, 27.8, 27.86, 27.91,
              27.95, 27.99, 28.05, 28.1, 28.14, 28.18, 28.22, 28.27, 28.33, 28.37,
              28.41, 28.46, 28.52, 28.58, 28.64, 28.69, 28.75, 28.81, 28.86, 28.92,
              28.96, 29.0]
w_cclm = [7.70, 7.36, 7.61, 7.78, 7.61, 7.02, 5.83, 5.07, 4.39, 3.54,
          3.88, 4.13, 4.73, 5.07, 4.9, 4.9, 5.32, 5.58, 5.92, 6.09,
          5.41, 4.81, 4.73, 5.58, 4.39, 5.58, 6.43, 5.66, 4.81, 5.07,
          4.98, 4.47, 4.30, 4.0, 4.39, 4.9, 4.64, 4.73, 5.32, 5.5,
          5.24, 4.9, 4.64, 4.39, 3.96, 3.37, 3.2, 3.45, 3.29, 3.12,
          3.37, 4.22, 4.39, 4.47, 4.22, 3.79, 3.50, 3.41, 3.29, 3.03,
          2.73, 2.99, 2.78, 2.69, 2.35, 1.84, 2.35, 2.95, 3.62, 4.39,
          5.41, 6.94, 8.12, 7.44, 7.70, 8.8, 9.74, 11.27, 10.33, 9.99,
          9.14, 9.99, 9.99, 9.48, 8.89, 8.80, 9.31, 9.74, 8.29, 8.04,
          8.04, 7.87, 7.28, 6.6, 6.85, 6.94, 7.19, 6.77, 6.85, 7.44,
          7.78, 7.44, 7.61, 7.11, 7.36, 7.61, 7.87, 7.61, 7.19, 7.44,
          7.44, 7.11, 6.51, 6.34, 5.75, 5.32, 4.9, 4.73, 5.24, 5.32,
          5.15, 5.41, 5.24, 4.9, 5.41, 5.66, 5.41, 4.98, 5.5, 5.75,
          4.81, 3.88, 4.13, 3.71, 3.37, 3.45, 2.95, 2.69, 2.44, 3.12,
          3.88, 4.73, 5.07, 5.75, 5.92, 5.58, 5.66, 5.5, 4.81, 4.22,
          3.71, 3.88, 3.37, 2.86, 2.78, 2.52, 2.27, 2.01, 1.59, 2.01,
          2.44, 3.12, 4.39, 5.41, 5.83, 6.0, 5.92, 5.07, 4.81, 4.47,
          4.22, 4.30, 4.47, 4.39, 4.47, 4.22, 3.96, 3.71, 3.54, 3.62,
          3.45, 3.2, 2.86, 2.52, 2.01, 1.84, 1.25, 0.99, 1.33, 2.01,
          2.69, 3.12, 3.96, 4.56, 4.81, 4.9, 4.64, 4.73, 3.96, 3.71,
          3.79, 3.62, 3.71, 4.05, 4.39, 3.71, 3.37, 3.96, 3.54, 3.62,
          3.62, 3.2, 2.86, 3.88, 3.79, 3.88, 4.47, 4.64, 4.73, 4.22,
          4.13, 4.39, 4.47, 4.73,
          4.81, 3.96, 3.71, 3.71, 4.56, 4.90, 4.98, 4.73, 5.15, 4.73,
          4.39, 3.71, 4.39, 5.07, 4.73, 5.41, 5.41, 6.09, 6.09, 6.60,
          6.77, 7.61, 7.61, 8.46, 9.06, 8.80, 9.14, 8.97, 8.97, 9.14,
          9.23, 8.55, 7.78, 6.94, 6.09, 5.49, 8.12, 8.21, 7.36, 6.26,
          5.41, 5.07, 4.39, 3.96, 3.29, 3.88, 3.62, 4.13, 4.39, 3.96,
          4.05, 3.62, 3.71, 3.96, 3.71, 3.54, 3.20, 3.12, 2.69, 1.76,
          1.59, 1.42, 1.08, 0.57, 1.59, 0.99, 1.59, 2.18, 3.54, 5.41,
          5.49, 5.32, 4.98, 5.07, 4.64, 4.56, 4.64, 4.39, 3.88, 4.73,
          4.98, 3.54, 2.78, 4.39, 4.81, 5.41, 4.81, 3.96, 3.12, 4.39,
          6.09, 7.36, 8.12, 9.31, 8.12, 7.36, 6.94, 6.77, 6.26, 5.92,
          4.73, 5.41, 5.07, 5.75, 5.92, 5.49, 6.09, 6.17, 5.92, 6.09,
          6.0, 5.92, 5.75, 5.24, 4.39, 4.05, 3.88, 4.30, 4.56, 4.39,
          3.62, 3.88, 4.13, 4.22, 4.22, 4.30, 4.05, 5.66, 6.77, 6.60,
          5.92, 6.60, 6.43, 5.92, 5.58, 5.07, 4.56, 4.47, 4.30, 4.13,
          3.96, 3.88, 3.71, 3.54, 3.20, 3.45, 3.29, 3.12, 2.95, 2.69,
          2.52, 2.44, 2.35, 2.18, 1.93, 1.67, 1.42, 1.16, 0.65, 1.25,
          0.82, 1.16, 1.42, 1.59, 1.59, 1.50, 1.84, 1.93, 2.18, 1.84,
          2.52, 2.52, 2.69, 2.95, 3.12, 3.12, 3.20, 3.29, 3.12, 3.29,
          3.03, 2.78, 3.03, 2.95, 2.61, 2.61, 2.35, 2.01, 1.50, 1.16,
          1.42, 1.84, 2.18, 2.52, 2.78, 3.12, 3.45, 3.54, 4.05, 4.22,
          3.79, 4.56, 4.47, 4.13, 4.47, 4.56, 4.47, 4.56, 4.64, 4.73,
          4.81, 5.07, 5.41, 5.66, 5.49, 5.07, 4.81, 4.39, 4.22, 3.96,
          3.20, 3.12, 2.95, 2.86, 2.86, 2.18, 1.84, 2.01, 1.67, 1.33,
          2.01, 2.78, 3.12, 3.37, 3.29, 3.20, 3.54, 3.12, 2.69, 2.27,
          1.50, 4.13, 3.88, 3.54, 4.90, 5.66, 5.41, 5.15, 5.41, 5.66,
          6.60, 6.09, 5.66, 5.07, 4.56, 4.05, 3.79, 3.96, 3.45, 3.45,
          4.39, 5.66]

# ticks / labels
day_major = [1, 3, 5, 7, 9, 11, 13, 15, 17, 19, 21, 23, 25, 27, 29]
day_minor = [2, 4, 6, 8, 10, 12, 14, 16, 18, 20, 22, 24, 26, 28]
p_ticks = [980, 1000, 1020, 1040]
p_minor = [990, 1010, 1030]
t_ticks = [-35, -30, -25, -20, -15, -10, -5, 0]
t_ticklabels = ['-35', '', '-25', '', '-15', '', '-5', '']
t_minor = [-32.5, -27.5, -22.5, -17.5, -12.5, -7.5, -2.5]
dir_ticks = [0, 90, 180, 270, 360]
dir_minor = [45, 135, 225, 315]
w_ticks = [0, 2, 4, 6, 8, 10, 12]
w_ticklabels = ['0', '', '4', '', '8', '', '12']
w_minor = [1, 3, 5, 7, 9, 11, 13]

# ---------------- figure ----------------
FW, FH = 2695, 2744
fig = plt.figure(figsize=(FW / 100, FH / 100), dpi=100)

x0 = 452 / FW
wid = (2257 - 452) / FW


def panel(top_px, bot_px):
    return fig.add_axes([x0, 1 - bot_px / FH, wid, (bot_px - top_px) / FH])


TICK_FS = 54
LAB_FS = 56
SPINE_W = 3.6
TICK_W = 2.9
OBS_C = 'black'
CCLM_C = '#ff0000'
ERA_C = '#4d9bff'

ax_p = panel(75.8, 493.7)
ax_t = panel(567.7, 1143.5)
ax_d = panel(1163, 1720)
ax_w = panel(1775, 2400)

for ax in (ax_p, ax_t, ax_d, ax_w):
    ax.set_facecolor('none')
    ax.set_xlim(1, 29)
    for s in ax.spines.values():
        s.set_visible(False)
        s.set_linewidth(SPINE_W)
    ax.tick_params(axis='both', which='both', direction='out', width=TICK_W,
                   labelsize=TICK_FS, colors='black')

# pressure
ax_p.plot(p_day, p_obs, color=OBS_C, lw=2.6)
ax_p.plot(p_day, p_cclm, color=CCLM_C, lw=2.6)
ax_p.set_ylim(980, 1040)
ax_p.spines['right'].set_visible(True)
ax_p.spines['right'].set_position(('outward', 16.5))
ax_p.yaxis.tick_right()
ax_p.set_yticks(p_ticks)
ax_p.set_yticks(p_minor, minor=True)
ax_p.tick_params(axis='y', which='major', length=50, pad=28)
ax_p.tick_params(axis='y', which='minor', length=24.5)
ax_p.set_xticks([])

# temperature
ax_t.plot(t_obs_day, t_obs, color=OBS_C, lw=2.6, label='OBS', clip_on=False)
ax_t.plot(t_cclm_day, t_cclm, color=CCLM_C, lw=2.6, label='CCLM', clip_on=False)
ax_t.plot(t_era5_day, t_era5, color=ERA_C, lw=5.5, label='ERA5', clip_on=False)
ax_t.set_ylim(-35, 0)
ax_t.spines['left'].set_visible(True)
ax_t.set_yticks(t_ticks, labels=t_ticklabels)
ax_t.set_yticks(t_minor, minor=True)
ax_t.tick_params(axis='y', which='major', length=54, pad=29)
ax_t.tick_params(axis='y', which='minor', length=27)
ax_t.set_xticks([])
leg = ax_t.legend(loc='lower left', bbox_to_anchor=(0.0161, 0.0182), borderaxespad=0,
                  frameon=True, fancybox=False, framealpha=1, edgecolor='#b3b3b3',
                  prop={'family': 'Lato', 'size': 30}, handlelength=2.78,
                  handletextpad=0.5, labelspacing=0.82, borderpad=0.8)
leg.get_frame().set_linewidth(3.0)

# wind direction
ax_d.scatter(dir_cclm_day, dir_cclm, s=125, color=CCLM_C, linewidths=0, clip_on=False, zorder=3)
ax_d.scatter(dir_obs_day, dir_obs, s=125, color=OBS_C, linewidths=0, clip_on=False, zorder=4)
ax_d.set_ylim(0, 360)
ax_d.spines['right'].set_visible(True)
ax_d.spines['right'].set_position(('outward', 34.5))
ax_d.yaxis.tick_right()
ax_d.set_yticks(dir_ticks)
ax_d.set_yticks(dir_minor, minor=True)
ax_d.tick_params(axis='y', which='major', length=27, pad=25)
ax_d.tick_params(axis='y', which='minor', length=14.5)
ax_d.yaxis.grid(True, which='major', color='#c8c8c8', lw=2.4)
ax_d.set_axisbelow(True)
ax_d.set_xticks([])

# wind speed
ax_w.plot(w_obs_day, w_obs, color=OBS_C, lw=2.6)
ax_w.plot(w_cclm_day, w_cclm, color=CCLM_C, lw=2.6)
ax_w.set_ylim(0, 13)
ax_w.spines['left'].set_visible(True)
ax_w.spines['bottom'].set_visible(True)
ax_w.set_yticks(w_ticks, labels=w_ticklabels)
ax_w.set_yticks(w_minor, minor=True)
ax_w.set_xticks(day_major, labels=[str(d) for d in day_major])
ax_w.set_xticks(day_minor, minor=True)
ax_w.tick_params(axis='both', which='major', length=52, pad=27)
ax_w.tick_params(axis='both', which='minor', length=27)
ax_w.tick_params(axis='x', which='major', pad=38)

# axis titles
bold = dict(fontsize=LAB_FS, fontweight='bold', ha='center', va='center')
fig.text(2612 / FW, 1 - 283 / FH, 'p in hPa', rotation=90, **bold)
fig.text(102 / FW, 1 - 882 / FH, 'T  in \u00b0C', rotation=90, **bold)
fig.text(2555 / FW, 1 - 1442 / FH, 'Dir in \u00b0', rotation=90, **bold)
fig.text(131 / FW, 1 - 2084 / FH, 'Wind in m/s', rotation=90, **bold)
fig.text(1354 / FW, 1 - 2695 / FH, 'April', fontsize=LAB_FS + 3, fontweight='bold',
         ha='center', va='baseline')

fig.savefig('out.png', dpi=100)
